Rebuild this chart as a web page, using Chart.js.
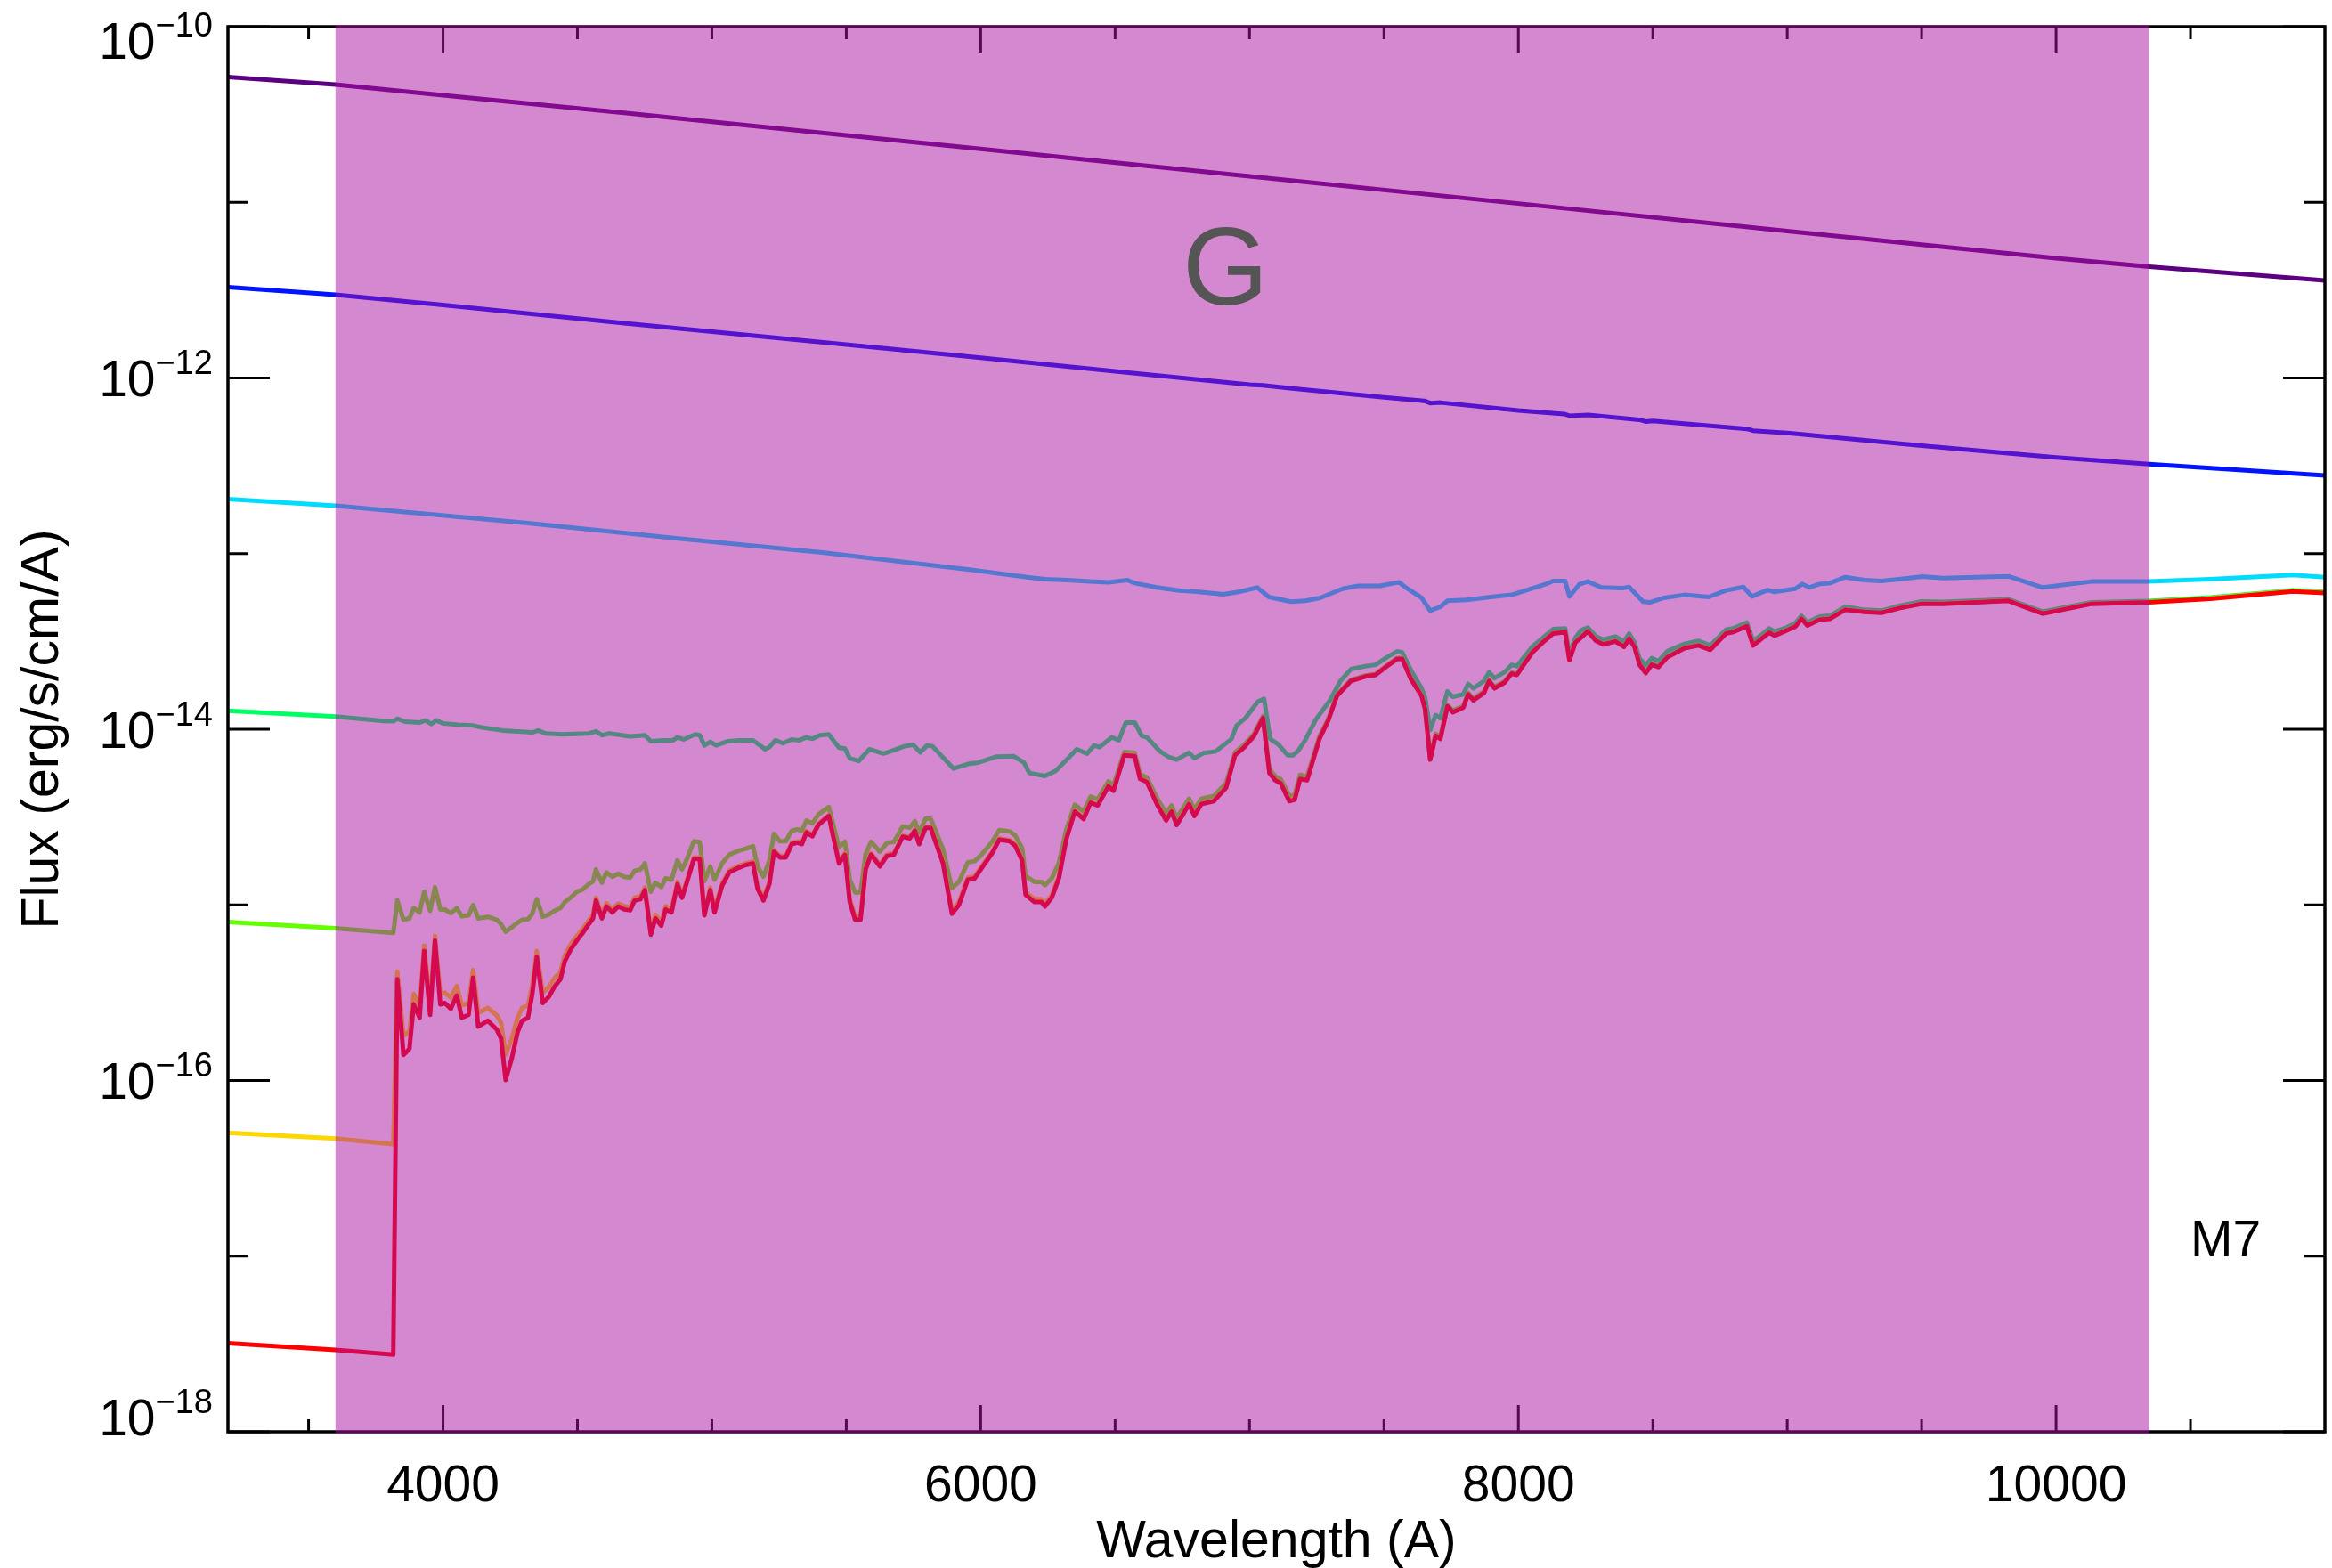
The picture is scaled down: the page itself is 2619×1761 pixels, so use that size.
<!DOCTYPE html>
<html>
<head>
<meta charset="utf-8">
<script src="https://cdn.jsdelivr.net/npm/chart.js@4.4.0/dist/chart.umd.min.js"></script>
<style>
  html, body { margin: 0; padding: 0; background: #fff; }
  #wrap { width: 2619px; height: 1761px; }
</style>
</head>
<body>
<div id="wrap"><canvas id="spectra"></canvas></div>
<script>
// wavelength grid (A) for the three faintest spectra
const wave = [
  3200, 3600, 3815, 3830, 3853, 3875, 3891, 3913, 3930, 3952,
  3970, 3990, 4007, 4029, 4051, 4070, 4095, 4112, 4131, 4167,
  4200, 4216, 4233, 4255, 4277, 4294, 4316, 4332, 4349, 4371,
  4393, 4415, 4437, 4453, 4475, 4498, 4519, 4542, 4558, 4569,
  4591, 4608, 4630, 4652, 4674, 4696, 4713, 4735, 4751, 4773,
  4790, 4812, 4828, 4850, 4872, 4889, 4905, 4933, 4955, 4972,
  4994, 5010, 5038, 5065, 5098, 5126, 5153, 5170, 5192, 5214,
  5231, 5253, 5275, 5297, 5319, 5335, 5352, 5374, 5396, 5435,
  5473, 5495,
  5513, 5533, 5553, 5572, 5592, 5625, 5651, 5677, 5710, 5736,
  5755, 5771, 5795, 5814, 5860, 5893, 5919, 5952, 5978, 6004,
  6043, 6069, 6108, 6128, 6154, 6167, 6200, 6226, 6239, 6265,
  6291, 6318, 6350, 6383, 6409, 6435, 6475, 6494, 6534, 6573,
  6593, 6618, 6658, 6690, 6710, 6729, 6756, 6775, 6795, 6821,
  6867, 6913, 6946, 6979, 7017, 7050, 7074, 7096, 7116, 7148,
  7168, 7188, 7214, 7260, 7292, 7325, 7377, 7430, 7469,
  7511, 7550, 7568, 7601, 7640, 7653, 7672, 7692, 7710, 7736,
  7756, 7795, 7813, 7833, 7872, 7891, 7911, 7949, 7975, 7994,
  8051, 8097, 8129, 8174, 8190, 8212, 8232, 8258, 8289, 8316,
  8361, 8393, 8412, 8432, 8451, 8474, 8496, 8521, 8554, 8618,
  8670, 8714, 8772, 8798, 8850, 8873, 8901, 8933, 8953, 8997,
  9030, 9053, 9075, 9120, 9159, 9216, 9287, 9351, 9416, 9500,
  9580, 9823, 9950, 10132, 10341, 10573, 10881, 11000
];

// log10 flux (erg/s/cm2/A)
const logRed = [
  -17.495, -17.534, -17.56, -15.423, -15.854, -15.82, -15.567, -15.643, -15.262, -15.626,
  -15.203, -15.567, -15.559, -15.592, -15.516, -15.643, -15.626, -15.414, -15.693, -15.66,
  -15.71, -15.761, -15.997, -15.879, -15.727, -15.66, -15.643, -15.508, -15.296, -15.559,
  -15.525, -15.465, -15.423, -15.322, -15.254, -15.203, -15.161, -15.11, -15.077, -14.975,
  -15.077, -15.009, -15.043, -15.009, -15.026, -15.031, -14.975, -14.967, -14.916, -15.17,
  -15.077, -15.119, -15.026, -15.043, -14.882, -14.959, -14.882, -14.739, -14.739, -15.06,
  -14.916, -15.043, -14.891, -14.815, -14.79, -14.773, -14.764, -14.908, -14.975, -14.882,
  -14.697, -14.73, -14.73, -14.654, -14.646, -14.654, -14.587, -14.609, -14.545, -14.494,
  -14.764, -14.715,
  -14.984, -15.085, -15.085, -14.798, -14.714, -14.781, -14.722, -14.714, -14.612, -14.621,
  -14.578, -14.654, -14.562, -14.562, -14.764, -15.051, -15.001, -14.857, -14.849, -14.79,
  -14.705, -14.629, -14.638, -14.663, -14.747, -14.942, -14.984, -14.984, -15.009, -14.958,
  -14.849, -14.629, -14.469, -14.511, -14.418, -14.435, -14.325, -14.35, -14.148, -14.153,
  -14.283, -14.30, -14.435, -14.52, -14.469, -14.545, -14.477, -14.426, -14.494, -14.426,
  -14.41, -14.333, -14.148, -14.105, -14.038, -13.936, -14.249, -14.291, -14.308, -14.41,
  -14.401, -14.283, -14.291, -14.055, -13.953, -13.81, -13.725, -13.70, -13.691,
  -13.641, -13.599, -13.599, -13.717, -13.81, -13.886, -14.173, -14.038, -14.055, -13.869,
  -13.903, -13.877, -13.801, -13.835, -13.793, -13.725, -13.767, -13.734, -13.683, -13.691,
  -13.564, -13.497, -13.455, -13.447, -13.607, -13.506, -13.48, -13.443, -13.497, -13.517,
  -13.50, -13.531, -13.484, -13.531, -13.633, -13.68, -13.633, -13.646, -13.59, -13.539,
  -13.523, -13.548, -13.455, -13.447, -13.413, -13.523, -13.489, -13.45, -13.467, -13.438,
  -13.416, -13.371, -13.409, -13.376, -13.371, -13.32, -13.332, -13.337, -13.311, -13.286,
  -13.286, -13.269, -13.342, -13.286, -13.278, -13.257, -13.215, -13.224
];

const logOrange = [
  -16.298, -16.331, -16.363, -15.379, -15.746, -15.72, -15.507, -15.573, -15.232, -15.559,
  -15.176, -15.507, -15.5, -15.529, -15.462, -15.573, -15.559, -15.371, -15.615, -15.587,
  -15.629, -15.672, -15.852, -15.765, -15.644, -15.587, -15.573, -15.457, -15.263, -15.5,
  -15.47, -15.417, -15.381, -15.287, -15.224, -15.176, -15.137, -15.089, -15.057, -14.959,
  -15.057, -14.992, -15.024, -14.992, -15.008, -15.013, -14.959, -14.951, -14.902, -15.146,
  -15.057, -15.097, -15.008, -15.024, -14.869, -14.944, -14.869, -14.73, -14.73, -15.04,
  -14.902, -15.024, -14.878, -14.804, -14.78, -14.763, -14.754, -14.894, -14.959, -14.869,
  -14.688, -14.721, -14.721, -14.646, -14.638, -14.646, -14.58, -14.602, -14.539, -14.489,
  -14.754, -14.706,
  -14.967, -15.064, -15.064, -14.787, -14.705, -14.771, -14.713, -14.705, -14.605, -14.614,
  -14.572, -14.646, -14.556, -14.556, -14.754, -15.031, -14.984, -14.845, -14.837, -14.78,
  -14.697, -14.622, -14.631, -14.655, -14.737, -14.927, -14.967, -14.967, -14.991, -14.943,
  -14.837, -14.622, -14.464, -14.505, -14.414, -14.43, -14.321, -14.346, -14.145, -14.15,
  -14.279, -14.296, -14.43, -14.514, -14.464, -14.539, -14.472, -14.422, -14.489, -14.422,
  -14.406, -14.329, -14.146, -14.103, -14.036, -13.935, -14.246, -14.288, -14.305, -14.406,
  -14.397, -14.28, -14.288, -14.053, -13.952, -13.809, -13.724, -13.699, -13.69,
  -13.64, -13.598, -13.598, -13.716, -13.809, -13.884, -14.17, -14.036, -14.053, -13.868,
  -13.902, -13.876, -13.8, -13.834, -13.792, -13.724, -13.766, -13.733, -13.682, -13.69,
  -13.563, -13.496, -13.454, -13.446, -13.606, -13.505, -13.479, -13.442, -13.496, -13.516,
  -13.499, -13.53, -13.483, -13.53, -13.632, -13.679, -13.632, -13.645, -13.589, -13.538,
  -13.522, -13.547, -13.454, -13.446, -13.412, -13.522, -13.488, -13.449, -13.466, -13.437,
  -13.415, -13.37, -13.408, -13.375, -13.37, -13.319, -13.331, -13.336, -13.31, -13.285,
  -13.285, -13.268, -13.341, -13.285, -13.277, -13.256, -13.214, -13.223
];

const logOlive = [
  -15.097, -15.133, -15.16, -14.975, -15.085, -15.077, -15.018, -15.043, -14.925, -15.034,
  -14.899, -15.026, -15.026, -15.048, -15.018, -15.065, -15.06, -15.001, -15.077, -15.068,
  -15.085, -15.11, -15.153, -15.128, -15.102, -15.085, -15.082, -15.051, -14.967, -15.068,
  -15.055, -15.034, -15.018, -14.984, -14.958, -14.925, -14.913, -14.882, -14.866, -14.798,
  -14.874, -14.815, -14.84, -14.823, -14.84, -14.845, -14.806, -14.798, -14.764, -14.925,
  -14.874, -14.899, -14.849, -14.857, -14.747, -14.798, -14.747, -14.638, -14.643, -14.866,
  -14.781, -14.857, -14.764, -14.714, -14.693, -14.68, -14.666, -14.781, -14.84, -14.747,
  -14.595, -14.638, -14.638, -14.578, -14.57, -14.578, -14.52, -14.536, -14.486, -14.443,
  -14.672, -14.64,
  -14.856, -14.929, -14.929, -14.711, -14.641, -14.697, -14.648, -14.641, -14.553, -14.561,
  -14.523, -14.59, -14.509, -14.509, -14.683, -14.905, -14.869, -14.758, -14.751, -14.713,
  -14.64, -14.574, -14.582, -14.604, -14.676, -14.836, -14.869, -14.869, -14.888, -14.848,
  -14.761, -14.574, -14.43, -14.469, -14.383, -14.399, -14.297, -14.32, -14.129, -14.134,
  -14.257, -14.274, -14.399, -14.477, -14.434, -14.504, -14.442, -14.395, -14.457, -14.395,
  -14.38, -14.307, -14.131, -14.09, -14.025, -13.926, -14.228, -14.268, -14.284, -14.38,
  -14.371, -14.26, -14.268, -14.04, -13.943, -13.803, -13.719, -13.694, -13.685,
  -13.636, -13.594, -13.594, -13.71, -13.802, -13.876, -14.157, -14.026, -14.042, -13.86,
  -13.893, -13.868, -13.793, -13.826, -13.785, -13.718, -13.759, -13.727, -13.677, -13.685,
  -13.559, -13.493, -13.451, -13.443, -13.601, -13.501, -13.476, -13.439, -13.493, -13.512,
  -13.495, -13.526, -13.48, -13.526, -13.627, -13.673, -13.627, -13.64, -13.585, -13.534,
  -13.518, -13.543, -13.451, -13.443, -13.409, -13.518, -13.485, -13.446, -13.463, -13.434,
  -13.412, -13.368, -13.405, -13.373, -13.368, -13.317, -13.329, -13.334, -13.308, -13.283,
  -13.283, -13.266, -13.339, -13.283, -13.275, -13.254, -13.212, -13.221
];

const waveTeal = [
  3200, 3600, 3781, 3815, 3830, 3858, 3913, 3935, 3957, 3974,
  4001, 4056, 4112, 4145, 4222, 4332, 4354, 4382, 4442, 4542,
  4569, 4591, 4618, 4696, 4751, 4773, 4817, 4856, 4872, 4895,
  4938, 4955, 4972, 4994, 5016, 5060, 5104, 5153, 5176, 5198,
  5214, 5236, 5264, 5297, 5325, 5352, 5374, 5402, 5435, 5473,
  5495,
  5513, 5546, 5586, 5638, 5664, 5716, 5749, 5775, 5801, 5821,
  5899, 5952, 5991, 6057, 6122, 6161, 6181, 6239, 6279, 6331,
  6357, 6396, 6422, 6442, 6488, 6514, 6540, 6573, 6599, 6618,
  6664, 6697, 6729, 6775, 6795, 6828, 6874, 6933, 6952, 6985,
  7031, 7054, 7077, 7109, 7142, 7162, 7181, 7207, 7247, 7299,
  7338, 7377, 7430, 7469,
  7511, 7550, 7568, 7601, 7640, 7653, 7672, 7692, 7710, 7736,
  7756, 7795, 7813, 7833, 7872, 7891, 7911, 7949, 7975, 7994,
  8051, 8097, 8129, 8174, 8190, 8212, 8232, 8258, 8289, 8316,
  8361, 8393, 8412, 8432, 8451, 8474, 8496, 8521, 8554, 8618,
  8670, 8714, 8772, 8798, 8850, 8873, 8901, 8933, 8953, 8997,
  9030, 9053, 9075, 9120, 9159, 9216, 9287, 9351, 9416, 9500,
  9580, 9823, 9950, 10132, 10341, 10573, 10881, 11000
];
const logTeal = [
  -13.895, -13.928, -13.953, -13.955, -13.94, -13.957, -13.962, -13.95, -13.97, -13.95,
  -13.967, -13.974, -13.979, -13.99, -14.007, -14.018, -14.007, -14.024, -14.029, -14.024,
  -14.012, -14.034, -14.024, -14.041, -14.034, -14.068, -14.063, -14.063, -14.046, -14.058,
  -14.029, -14.034, -14.092, -14.071, -14.092, -14.068, -14.063, -14.063, -14.089, -14.114,
  -14.102, -14.063, -14.08, -14.058, -14.063, -14.046, -14.055, -14.034, -14.029, -14.105,
  -14.109,
  -14.165, -14.181, -14.114, -14.139, -14.126, -14.097, -14.089, -14.131, -14.092, -14.097,
  -14.224, -14.198, -14.19, -14.156, -14.153, -14.19, -14.249, -14.266, -14.237, -14.156,
  -14.114, -14.139, -14.092, -14.102, -14.046, -14.063, -13.962, -13.962, -14.038, -14.046,
  -14.122, -14.156, -14.173, -14.134, -14.165, -14.136, -14.126, -14.055, -13.979, -13.936,
  -13.843, -13.827, -14.055, -14.089, -14.148, -14.148, -14.122, -14.063, -13.944, -13.835,
  -13.725, -13.658, -13.641, -13.633,
  -13.59, -13.556, -13.562, -13.666, -13.767, -13.818, -14.004, -13.919, -13.937, -13.784,
  -13.815, -13.801, -13.742, -13.767, -13.725, -13.675, -13.709, -13.675, -13.633, -13.641,
  -13.531, -13.472, -13.43, -13.426, -13.573, -13.48, -13.438, -13.421, -13.472, -13.489,
  -13.472, -13.50, -13.455, -13.506, -13.599, -13.633, -13.595, -13.612, -13.556, -13.514,
  -13.497, -13.523, -13.433, -13.426, -13.392, -13.497, -13.467, -13.426, -13.443, -13.421,
  -13.396, -13.354, -13.392, -13.359, -13.354, -13.303, -13.32, -13.325, -13.298, -13.272,
  -13.275, -13.26, -13.33, -13.277, -13.27, -13.25, -13.209, -13.218
];

const waveCyan = [
  3200, 3602, 4307, 4858, 5411, 5965, 6172, 6241, 6324, 6407,
  6476, 6546, 6573, 6655, 6738, 6794, 6903, 6960, 7029, 7072,
  7154, 7207, 7263, 7346, 7403, 7485, 7556, 7588, 7640, 7672,
  7710, 7736, 7806, 7897, 7975, 8103, 8129, 8174, 8190, 8226,
  8258, 8309, 8386, 8412, 8464, 8489, 8541, 8618, 8708, 8772,
  8837, 8869, 8927, 8953, 9030, 9056, 9082, 9120, 9159, 9216,
  9287, 9351, 9416, 9503, 9580, 9823, 9950, 10132, 10341, 10573,
  10881, 11000
];
const logCyan = [
  -12.69, -12.728, -12.825, -12.911, -12.994, -13.092, -13.134, -13.146, -13.151, -13.159,
  -13.163, -13.151, -13.168, -13.193, -13.21, -13.215, -13.232, -13.218, -13.193, -13.247,
  -13.274, -13.269, -13.252, -13.20, -13.184, -13.184, -13.163, -13.20, -13.252, -13.325,
  -13.303, -13.269, -13.264, -13.247, -13.235, -13.173, -13.156, -13.156, -13.244, -13.176,
  -13.159, -13.193, -13.197, -13.19, -13.274, -13.278, -13.252, -13.235, -13.247, -13.21,
  -13.19, -13.244, -13.207, -13.218, -13.20, -13.173, -13.193, -13.173, -13.168, -13.134,
  -13.151, -13.156, -13.146, -13.131, -13.139, -13.129, -13.193, -13.159, -13.159, -13.146,
  -13.122, -13.134
];

// the two bright spectra
const waveBlue = [
  3200, 3600, 4000, 4674, 5500, 6000, 6500, 7000, 7050, 7150,
  7500, 7650, 7672, 7710, 8000, 8170, 8190, 8260, 8450, 8474,
  8500, 8850, 8873, 9000, 9500, 10000, 10346, 11000
];
const logBlue = [
  -11.483, -11.526, -11.584, -11.688, -11.81, -11.885, -11.962, -12.038, -12.042, -12.058,
  -12.11, -12.13, -12.143, -12.14, -12.185, -12.205, -12.215, -12.21, -12.238, -12.248,
  -12.245, -12.29, -12.3, -12.313, -12.385, -12.452, -12.49, -12.555
];
const wavePurple = [3200, 3600, 4000, 4674, 5500, 6000, 7000, 8000, 9000, 9541, 10000, 10346, 11000];
const logPurple  = [-10.287, -10.329, -10.39, -10.49, -10.618, -10.696, -10.852, -11.007, -11.163, -11.247, -11.318, -11.366, -11.445];

// axes
const xMajor = [4000, 6000, 8000, 10000];
const xMinor = [3500, 4500, 5000, 5500, 6500, 7000, 7500, 8500, 9000, 9500, 10500];
const yMajorExp = [-10, -12, -14, -16, -18];
const yMinorExp = [-11, -13, -15, -17];
const band = [3600, 10346];

const FONT = '"Liberation Sans", Arial, Helvetica, sans-serif';

function pts(w, l) {
  return w.map((v, i) => ({ x: v, y: Math.pow(10, l[i]) }));
}

function line(data, color) {
  return {
    data: data,
    borderColor: color,
    borderWidth: 5,
    pointRadius: 0,
    tension: 0,
    borderJoinStyle: 'round',
    fill: false
  };
}

// first dataset is drawn on top
const datasets = [
  line(pts(wave, logRed), 'rgb(255,0,0)'),
  line(pts(wave, logOrange), 'rgb(255,215,0)'),
  line(pts(wave, logOlive), 'rgb(100,255,0)'),
  line(pts(waveTeal, logTeal), 'rgb(0,255,100)'),
  line(pts(waveCyan, logCyan), 'rgb(0,220,255)'),
  line(pts(waveBlue, logBlue), 'rgb(0,20,255)'),
  line(pts(wavePurple, logPurple), 'rgb(92,0,130)')
];

const decor = {
  id: 'decor',
  afterDatasetsDraw(chart) {
    const { ctx, chartArea: a, scales: { x, y } } = chart;
    const seg = (x0, y0, x1, y1) => {
      ctx.beginPath(); ctx.moveTo(x0, y0); ctx.lineTo(x1, y1); ctx.stroke();
    };
    ctx.save();
    ctx.strokeStyle = '#000';
    ctx.lineWidth = 3;
    xMajor.forEach(v => {
      const p = x.getPixelForValue(v);
      seg(p, a.bottom, p, a.bottom - 30);
      seg(p, a.top, p, a.top + 30);
    });
    xMinor.forEach(v => {
      const p = x.getPixelForValue(v);
      seg(p, a.bottom, p, a.bottom - 14);
      seg(p, a.top, p, a.top + 14);
    });
    yMajorExp.forEach(e => {
      const p = y.getPixelForValue(Math.pow(10, e));
      seg(a.left, p, a.left + 47, p);
      seg(a.right, p, a.right - 47, p);
    });
    yMinorExp.forEach(e => {
      const p = y.getPixelForValue(Math.pow(10, e));
      seg(a.left, p, a.left + 23, p);
      seg(a.right, p, a.right - 23, p);
    });
    ctx.lineWidth = 3.5;
    ctx.strokeRect(a.left, a.top, a.right - a.left, a.bottom - a.top);

    // shaded G band, laid over lines and frame
    const b0 = x.getPixelForValue(band[0]);
    const b1 = x.getPixelForValue(band[1]);
    ctx.fillStyle = 'rgba(170,18,159,0.5)';
    ctx.fillRect(b0, a.top - 2, b1 - b0, a.bottom - a.top + 4);

    // tick labels
    ctx.fillStyle = '#000';
    ctx.textBaseline = 'alphabetic';
    ctx.font = '57px ' + FONT;
    ctx.textAlign = 'center';
    xMajor.forEach(v => ctx.fillText(String(v), x.getPixelForValue(v), a.bottom + 78));

    ctx.textAlign = 'left';
    yMajorExp.forEach(e => {
      const p = y.getPixelForValue(Math.pow(10, e));
      const mid = Math.min(Math.max(p, a.top + 15), a.bottom - 17);
      const base = mid + 20.5;
      const sup = '\u2212' + Math.abs(e);
      ctx.font = '38px ' + FONT;
      const ws = ctx.measureText(sup).width;
      ctx.font = '57px ' + FONT;
      const wm = ctx.measureText('10').width;
      const right = a.left - 17;
      ctx.fillText('10', right - ws - wm, base);
      ctx.font = '38px ' + FONT;
      ctx.fillText(sup, right - ws, base - 25);
    });

    // axis titles
    ctx.font = '59px ' + FONT;
    ctx.textAlign = 'center';
    ctx.fillText('Wavelength (A)', (a.left + a.right) / 2, a.bottom + 141);
    ctx.save();
    ctx.translate(65, (a.top + a.bottom) / 2);
    ctx.rotate(-Math.PI / 2);
    ctx.fillText('Flux (erg/s/cm/A)', 0, 0);
    ctx.restore();

    // labels inside the plot
    ctx.font = '124px ' + FONT;
    ctx.fillStyle = '#555555';
    ctx.textAlign = 'center';
    ctx.fillText('G', x.getPixelForValue(6910), y.getPixelForValue(Math.pow(10, -11.582)));
    ctx.font = '57px ' + FONT;
    ctx.fillStyle = '#000';
    ctx.textAlign = 'left';
    ctx.fillText('M7', x.getPixelForValue(10500), y.getPixelForValue(1e-17));
    ctx.restore();
  }
};

new Chart(document.getElementById('spectra'), {
  type: 'line',
  data: { datasets: datasets },
  options: {
    responsive: true,
    maintainAspectRatio: false,
    devicePixelRatio: 1,
    animation: false,
    events: [],
    layout: { padding: { left: 256, right: 8, top: 30, bottom: 153 } },
    plugins: { legend: { display: false }, tooltip: { enabled: false } },
    scales: {
      x: { type: 'linear', min: 3200, max: 11000, display: false },
      y: { type: 'logarithmic', min: 1e-18, max: 1e-10, display: false }
    }
  },
  plugins: [decor]
});
</script>
</body>
</html>
